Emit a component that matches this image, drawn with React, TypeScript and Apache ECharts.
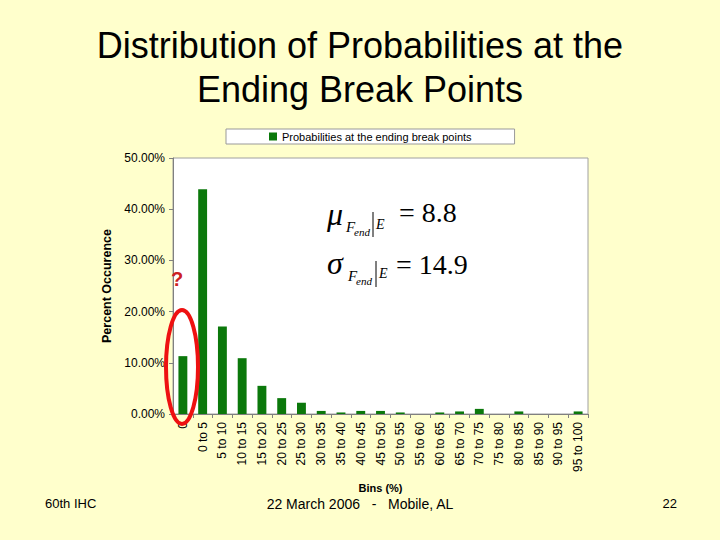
import React, { useEffect, useRef } from "react";
import * as echarts from "echarts";

const categories = [
  "0", "0 to 5", "5 to 10", "10 to 15", "15 to 20", "20 to 25", "25 to 30",
  "30 to 35", "35 to 40", "40 to 45", "45 to 50", "50 to 55", "55 to 60",
  "60 to 65", "65 to 70", "70 to 75", "75 to 80", "80 to 85", "85 to 90",
  "90 to 95", "95 to 100",
];
const probabilities = [
  11.3, 43.9, 17.1, 10.9, 5.5, 3.1, 2.2, 0.6, 0.3, 0.6, 0.6, 0.3, 0,
  0.3, 0.5, 1.0, 0, 0.5, 0, 0, 0.5,
];
const yTicks = [0, 10, 20, 30, 40, 50];
const seriesName = "Probabilities at the ending break points";

export default function App() {
  const ref = useRef<HTMLDivElement>(null);
  useEffect(() => {
    if (!ref.current) return;
    const chart = echarts.init(ref.current, null, { renderer: "svg" });
    const serif = "Liberation Serif, Times New Roman, serif";
    const sans = "Liberation Sans, Arial, sans-serif";
    chart.setOption({
      animation: false,
      backgroundColor: "#FFFFCC",
      title: {
        text: "Distribution of Probabilities at the\nEnding Break Points",
        left: "center",
        top: 18,
        textStyle: {
          fontFamily: sans,
          fontSize: 36,
          fontWeight: "normal",
          color: "#000",
          lineHeight: 44,
        },
      },
      legend: {
        data: [seriesName],
        left: 226,
        top: 129,
        backgroundColor: "#fff",
        borderColor: "#999",
        borderWidth: 1,
        borderRadius: 0,
        padding: [2, 43, 2, 43],
        itemWidth: 8,
        itemHeight: 8,
        itemGap: 4,
        icon: "rect",
        textStyle: { fontFamily: sans, fontSize: 11, color: "#000" },
      },
      grid: {
        left: 173,
        right: 132,
        top: 158,
        bottom: 126,
        show: true,
        backgroundColor: "#fff",
        borderColor: "#a0a0a0",
        borderWidth: 1,
      },
      xAxis: {
        type: "category",
        data: categories,
        name: "Bins (%)",
        nameLocation: "middle",
        nameGap: 68,
        nameTextStyle: { fontFamily: sans, fontSize: 11, fontWeight: "bold", color: "#000" },
        axisLine: { lineStyle: { color: "#808080" } },
        axisTick: { show: true, alignWithLabel: false, length: 4, lineStyle: { color: "#808080" } },
        axisLabel: {
          rotate: 90,
          interval: 0,
          fontFamily: sans,
          fontSize: 12,
          color: "#000",
          margin: 8,
        },
        splitLine: { show: false },
      },
      yAxis: {
        type: "value",
        min: 0,
        max: 50,
        interval: 10,
        name: "Percent Occurence",
        nameLocation: "middle",
        nameGap: 57,
        nameRotate: 90,
        nameTextStyle: { fontFamily: sans, fontSize: 12.5, fontWeight: "bold", color: "#000" },
        axisLine: { show: true, lineStyle: { color: "#808080" } },
        axisTick: { show: true, length: 4, lineStyle: { color: "#808080" } },
        axisLabel: {
          fontFamily: sans,
          fontSize: 12,
          color: "#000",
          margin: 8,
          formatter: (v: number) => (yTicks.includes(v) ? v.toFixed(2) + "%" : ""),
        },
        splitLine: { show: false },
      },
      series: [
        {
          name: seriesName,
          type: "bar",
          data: probabilities,
          barWidth: "45%",
          itemStyle: { color: "#0B780B", borderColor: "#0A3A0A", borderWidth: 0 },
        },
      ],
      graphic: [
        // red ellipse
        {
          type: "ellipse",
          shape: { cx: 182, cy: 367, rx: 16, ry: 57 },
          style: { fill: "none", stroke: "#EE1111", lineWidth: 4 },
          z: 100,
        },
        {
          type: "text",
          x: 177,
          y: 279,
          style: {
            text: "?",
            fontFamily: sans,
            fontSize: 20,
            fontWeight: "bold",
            fill: "#CC2222",
            align: "center",
            verticalAlign: "middle",
          },
          z: 100,
        },
        // mu formula
        { type: "text", x: 327, y: 198, style: { text: "μ", fontFamily: serif, fontSize: 32, fontStyle: "italic", fill: "#000" } },
        { type: "text", x: 346, y: 219, style: { text: "F", fontFamily: serif, fontSize: 15, fontStyle: "italic", fill: "#000" } },
        { type: "text", x: 354, y: 226, style: { text: "end", fontFamily: serif, fontSize: 11, fontStyle: "italic", fill: "#000" } },
        { type: "line", shape: { x1: 373, y1: 212, x2: 373, y2: 237 }, style: { stroke: "#000", lineWidth: 1 } },
        { type: "text", x: 376, y: 217, style: { text: "E", fontFamily: serif, fontSize: 14, fontStyle: "italic", fill: "#000" } },
        { type: "text", x: 399, y: 198, style: { text: "= 8.8", fontFamily: serif, fontSize: 28, fill: "#000" } },
        // sigma formula
        { type: "text", x: 327, y: 247, style: { text: "σ", fontFamily: serif, fontSize: 32, fontStyle: "italic", fill: "#000" } },
        { type: "text", x: 348, y: 268, style: { text: "F", fontFamily: serif, fontSize: 15, fontStyle: "italic", fill: "#000" } },
        { type: "text", x: 356, y: 275, style: { text: "end", fontFamily: serif, fontSize: 11, fontStyle: "italic", fill: "#000" } },
        { type: "line", shape: { x1: 376, y1: 261, x2: 376, y2: 287 }, style: { stroke: "#000", lineWidth: 1 } },
        { type: "text", x: 379, y: 266, style: { text: "E", fontFamily: serif, fontSize: 14, fontStyle: "italic", fill: "#000" } },
        { type: "text", x: 396, y: 250, style: { text: "= 14.9", fontFamily: serif, fontSize: 28, fill: "#000" } },
        // footer
        { type: "text", x: 45, y: 497, style: { text: "60th IHC", fontFamily: sans, fontSize: 13, fill: "#000" } },
        { type: "text", x: 360, y: 497, style: { text: "22 March 2006   -   Mobile, AL", fontFamily: sans, fontSize: 14, fill: "#000", align: "center" } },
        { type: "text", x: 677, y: 497, style: { text: "22", fontFamily: sans, fontSize: 13, fill: "#000", align: "right" } },
      ],
    });
    return () => chart.dispose();
  }, []);
  return (
    <div
      ref={ref}
      style={{ position: "fixed", left: 0, top: 0, width: 720, height: 540 }}
    />
  );
}
